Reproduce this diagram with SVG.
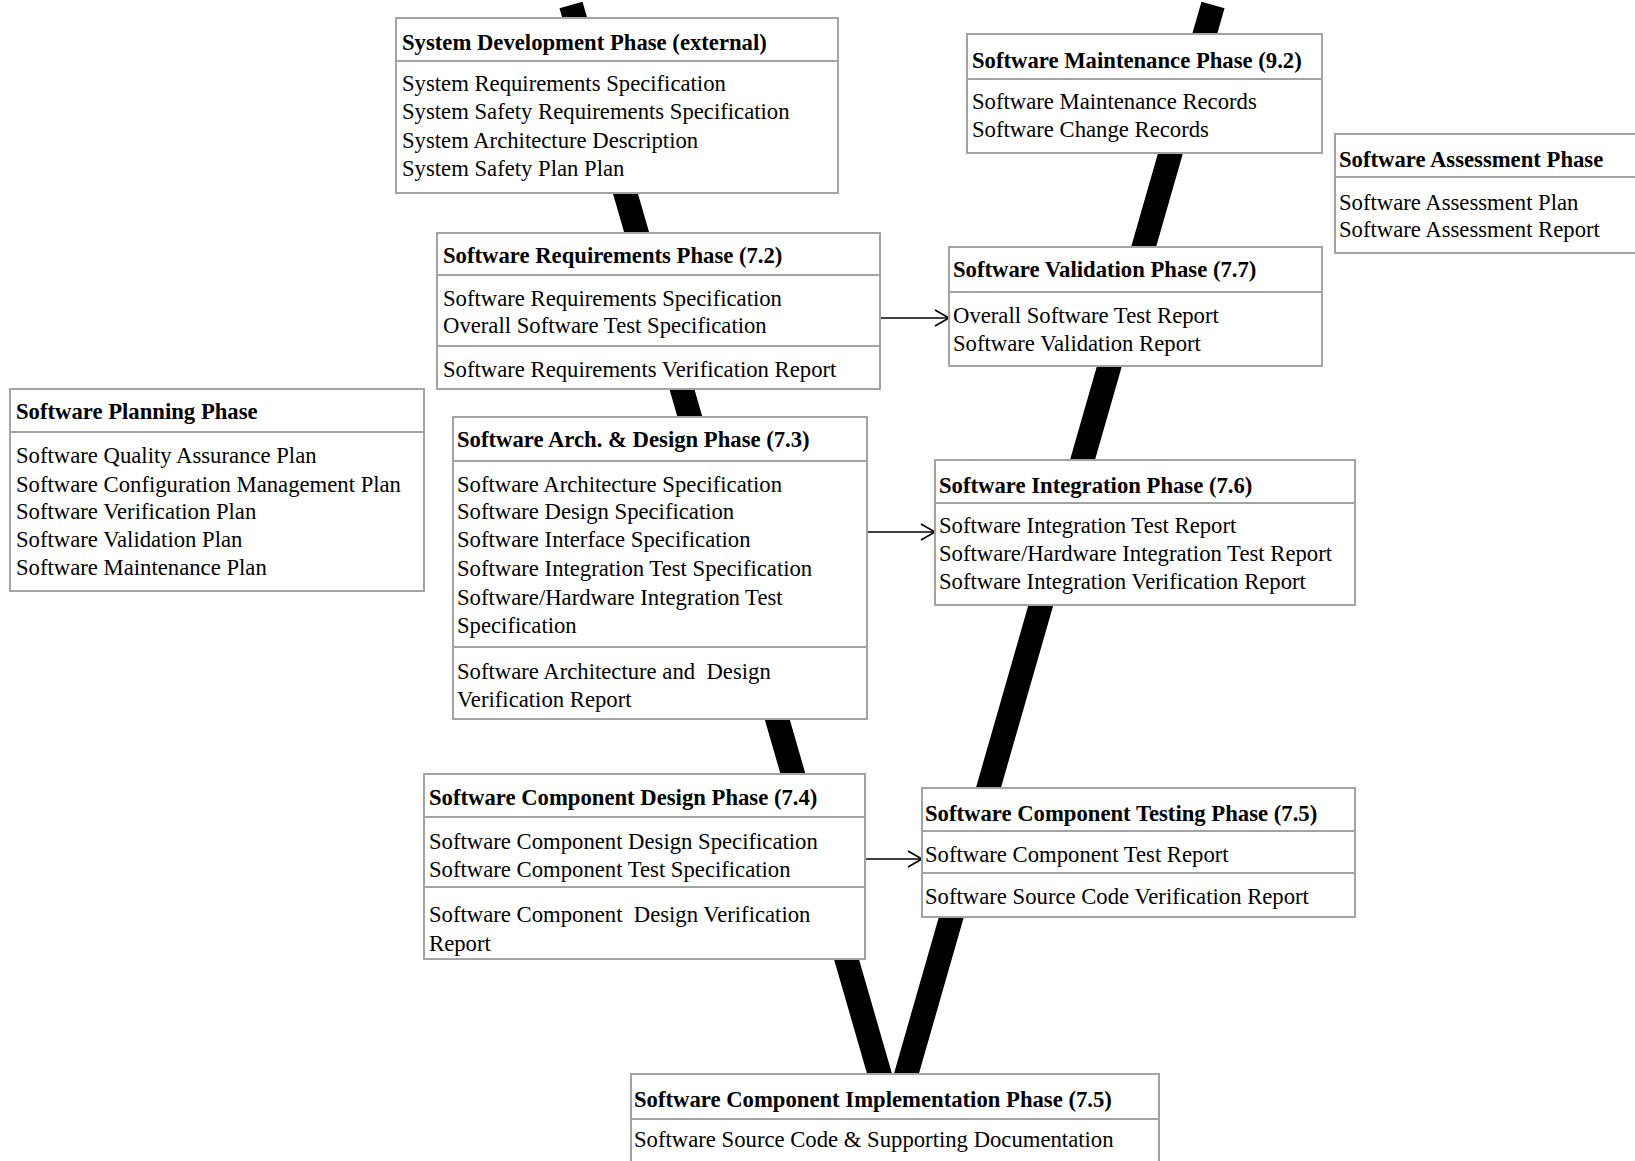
<svg xmlns="http://www.w3.org/2000/svg" width="1635" height="1161" viewBox="0 0 1635 1161">
  <style>
    .box { fill: #ffffff; stroke: #a3a3a3; stroke-width: 2; }
    .div { stroke: #a3a3a3; stroke-width: 2; }
    text { font-family: "Liberation Serif", "Times New Roman", serif; font-size: 22.7px; fill: #000000; white-space: pre; }
    .hd { font-weight: bold; }
    .arm { stroke: #000000; stroke-width: 24; stroke-linecap: butt; fill: none; }
    .conn { stroke: #000000; stroke-width: 1.6; fill: none; }
  </style>
  <defs>
    <marker id="open-arrow" markerUnits="userSpaceOnUse" markerWidth="20" markerHeight="20" viewBox="-16 -10 18 20" refX="0" refY="0" orient="auto">
      <path d="M-14,-8 L0,0 L-14,8" fill="none" stroke="#000000" stroke-width="1.6"/>
    </marker>
  </defs>

  <!-- the V backbone -->
  <g id="v-backbone">
    <line class="arm" x1="571" y1="5" x2="890" y2="1110"/>
    <line class="arm" x1="1213" y1="5" x2="896" y2="1110"/>
  </g>

  <!-- connectors -->
  <g id="connectors">
    <line class="conn" x1="880" y1="318" x2="949" y2="318" marker-end="url(#open-arrow)"/>
    <line class="conn" x1="867" y1="532" x2="935" y2="532" marker-end="url(#open-arrow)"/>
    <line class="conn" x1="865" y1="859" x2="922" y2="859" marker-end="url(#open-arrow)"/>
  </g>

  <g id="system-development">
    <rect class="box" x="396" y="18" width="442" height="175"/>
    <line class="div" x1="396" y1="61" x2="838" y2="61"/>
    <text class="hd" x="402" y="50">System Development Phase (external)</text>
    <text x="402" y="91">System Requirements Specification</text>
    <text x="402" y="119">System Safety Requirements Specification</text>
    <text x="402" y="148">System Architecture Description</text>
    <text x="402" y="176">System Safety Plan Plan</text>
  </g>

  <g id="software-requirements">
    <rect class="box" x="437" y="233" width="443" height="156"/>
    <line class="div" x1="437" y1="275" x2="880" y2="275"/>
    <line class="div" x1="437" y1="346" x2="880" y2="346"/>
    <text class="hd" x="443" y="263">Software Requirements Phase (7.2)</text>
    <text x="443" y="306">Software Requirements Specification</text>
    <text x="443" y="333">Overall Software Test Specification</text>
    <text x="443" y="377">Software Requirements Verification Report</text>
  </g>

  <g id="software-maintenance">
    <rect class="box" x="967" y="34" width="355" height="119"/>
    <line class="div" x1="967" y1="79" x2="1322" y2="79"/>
    <text class="hd" x="972" y="68">Software Maintenance Phase (9.2)</text>
    <text x="972" y="109">Software Maintenance Records</text>
    <text x="972" y="137">Software Change Records</text>
  </g>

  <g id="software-assessment">
    <rect class="box" x="1335" y="134" width="320" height="119"/>
    <line class="div" x1="1335" y1="177" x2="1655" y2="177"/>
    <text class="hd" x="1339" y="167">Software Assessment Phase</text>
    <text x="1339" y="210">Software Assessment Plan</text>
    <text x="1339" y="237">Software Assessment Report</text>
  </g>

  <g id="software-validation">
    <rect class="box" x="949" y="247" width="373" height="119"/>
    <line class="div" x1="949" y1="292" x2="1322" y2="292"/>
    <text class="hd" x="953" y="277">Software Validation Phase (7.7)</text>
    <text x="953" y="323">Overall Software Test Report</text>
    <text x="953" y="351">Software Validation Report</text>
  </g>

  <g id="software-planning">
    <rect class="box" x="10" y="389" width="414" height="202"/>
    <line class="div" x1="10" y1="432" x2="424" y2="432"/>
    <text class="hd" x="16" y="419">Software Planning Phase</text>
    <text x="16" y="463">Software Quality Assurance Plan</text>
    <text x="16" y="492">Software Configuration Management Plan</text>
    <text x="16" y="519">Software Verification Plan</text>
    <text x="16" y="547">Software Validation Plan</text>
    <text x="16" y="575">Software Maintenance Plan</text>
  </g>

  <g id="software-architecture-design">
    <rect class="box" x="453" y="417" width="414" height="302"/>
    <line class="div" x1="453" y1="461" x2="867" y2="461"/>
    <line class="div" x1="453" y1="647" x2="867" y2="647"/>
    <text class="hd" x="457" y="447">Software Arch. &amp; Design Phase (7.3)</text>
    <text x="457" y="492">Software Architecture Specification</text>
    <text x="457" y="519">Software Design Specification</text>
    <text x="457" y="547">Software Interface Specification</text>
    <text x="457" y="576">Software Integration Test Specification</text>
    <text x="457" y="605">Software/Hardware Integration Test</text>
    <text x="457" y="633">Specification</text>
    <text x="457" y="679">Software Architecture and  Design</text>
    <text x="457" y="707">Verification Report</text>
  </g>

  <g id="software-integration">
    <rect class="box" x="935" y="460" width="420" height="145"/>
    <line class="div" x1="935" y1="503" x2="1355" y2="503"/>
    <text class="hd" x="939" y="493">Software Integration Phase (7.6)</text>
    <text x="939" y="533">Software Integration Test Report</text>
    <text x="939" y="561">Software/Hardware Integration Test Report</text>
    <text x="939" y="589">Software Integration Verification Report</text>
  </g>

  <g id="software-component-design">
    <rect class="box" x="424" y="774" width="441" height="185"/>
    <line class="div" x1="424" y1="817" x2="865" y2="817"/>
    <line class="div" x1="424" y1="887" x2="865" y2="887"/>
    <text class="hd" x="429" y="805">Software Component Design Phase (7.4)</text>
    <text x="429" y="849">Software Component Design Specification</text>
    <text x="429" y="877">Software Component Test Specification</text>
    <text x="429" y="922">Software Component  Design Verification</text>
    <text x="429" y="951">Report</text>
  </g>

  <g id="software-component-testing">
    <rect class="box" x="922" y="788" width="433" height="129"/>
    <line class="div" x1="922" y1="831" x2="1355" y2="831"/>
    <line class="div" x1="922" y1="873" x2="1355" y2="873"/>
    <text class="hd" x="925" y="821">Software Component Testing Phase (7.5)</text>
    <text x="925" y="862">Software Component Test Report</text>
    <text x="925" y="904">Software Source Code Verification Report</text>
  </g>

  <g id="software-component-implementation">
    <rect class="box" x="631" y="1074" width="528" height="100"/>
    <line class="div" x1="631" y1="1119" x2="1159" y2="1119"/>
    <text class="hd" x="634" y="1107">Software Component Implementation Phase (7.5)</text>
    <text x="634" y="1147">Software Source Code &amp; Supporting Documentation</text>
  </g>
</svg>
